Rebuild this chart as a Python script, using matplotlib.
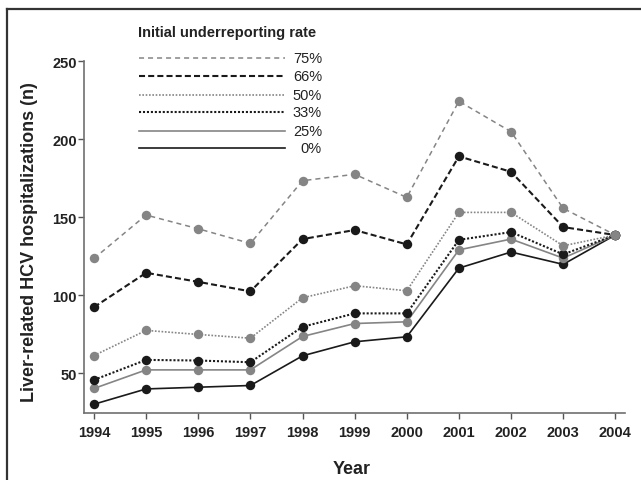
import matplotlib
matplotlib.use('Agg')
import matplotlib.pyplot as plt
from matplotlib.lines import Line2D

plt.rcParams['font.family'] = ['Liberation Sans', 'DejaVu Sans']

years = [1994, 1995, 1996, 1997, 1998, 1999, 2000, 2001, 2002, 2003, 2004]
rate_labels = ['75%', '66%', '50%', '33%', '25%', '0%']
rate_75 = [123.7, 151.5, 142.7, 133.3, 173.5, 177.6, 162.8, 224.4, 204.9, 155.8, 138.7]
rate_66 = [92.5, 114.5, 108.7, 102.6, 136.1, 141.9, 132.7, 189.1, 179.2, 143.8, 138.7]
rate_50 = [61.5, 77.6, 75.0, 72.6, 98.5, 106.2, 103.0, 153.2, 153.2, 131.8, 138.7]
rate_33 = [45.9, 58.7, 58.3, 57.2, 79.9, 88.5, 88.5, 135.6, 140.6, 126.3, 138.7]
rate_25 = [40.4, 52.3, 52.3, 52.3, 73.7, 82.0, 83.1, 129.2, 136.1, 123.9, 138.7]
rate_0 = [30.3, 40.1, 41.2, 42.3, 61.3, 70.3, 73.5, 117.5, 127.8, 119.9, 138.7]
y_ticks = [50, 100, 150, 200, 250]

GREY = '#858585'
BLACK = '#1a1a1a'
series = [
    (rate_75, GREY, (0, (3.3, 2.6)), 1.1, GREY),
    (rate_66, BLACK, (0, (2.9, 1.5)), 1.5, BLACK),
    (rate_50, GREY, (0, (1.0, 1.0)), 1.2, GREY),
    (rate_33, BLACK, (0, (1.0, 0.9)), 1.5, BLACK),
    (rate_25, GREY, '-', 1.2, GREY),
    (rate_0, BLACK, '-', 1.2, BLACK),
]

W, H = 641, 481
fig = plt.figure(figsize=(W / 100, H / 100), dpi=100)
ax = fig.add_axes([84.3 / W, 1 - 413.5 / H, (625 - 84.3) / W, (413.5 - 62.3) / H])

for vals, col, ls, lw, mc in series[::-1]:
    ax.plot(years, vals, color=col, linestyle=ls, linewidth=lw,
            marker='o', markersize=6.8, markerfacecolor=mc,
            markeredgewidth=0, clip_on=False, zorder=3)

ax.set_xlim(1993.814, 2004.186)
ax.set_ylim(25, 250)
ax.set_xticks(years)
ax.set_yticks(y_ticks)
ax.set_xticklabels([str(y) for y in years], fontsize=10.5, fontweight='bold', color='#222222')
ax.set_yticklabels([str(v) for v in y_ticks], fontsize=10.5, fontweight='bold', color='#222222')
for s in ['top', 'right']:
    ax.spines[s].set_visible(False)
for s in ['left', 'bottom']:
    ax.spines[s].set_color('#707070')
    ax.spines[s].set_linewidth(1.2)
ax.tick_params(axis='x', direction='out', length=4.5, width=1.0, color='#555555', pad=4.5)
ax.tick_params(axis='y', direction='out', length=4.5, width=1.0, color='#555555', pad=0.8)

fig.text(352 / W, 1 - 470 / H, 'Year', fontsize=13, fontweight='bold',
         ha='center', va='center', color='#222222')
fig.text(30 / W, 1 - 242 / H, 'Liver-related HCV hospitalizations (n)', fontsize=13,
         fontweight='bold', rotation=90, ha='center', va='center', color='#222222')

fig.text(137.7 / W, 1 - 33 / H, 'Initial underreporting rate', fontsize=10.5,
         fontweight='bold', ha='left', va='center', color='#222222')
rows_y = [59, 76.7, 95.7, 113.3, 131.7, 149.3]
for (vals, col, ls, lw, mc), lab, ry in zip(series, rate_labels, rows_y):
    fig.add_artist(Line2D([139 / W, 285 / W], [1 - ry / H, 1 - ry / H],
                          color=col, linestyle=ls, linewidth=lw, transform=fig.transFigure))
    fig.text(322 / W, 1 - ry / H, lab, fontsize=10.5, ha='right', va='center', color='#222222')

fig.add_artist(Line2D([7 / W, 7 / W], [0, 1 - 9.5 / H], color='#333333', linewidth=1.6,
                      transform=fig.transFigure))
fig.add_artist(Line2D([7 / W, 1], [1 - 9.5 / H, 1 - 9.5 / H], color='#333333', linewidth=1.6,
                      transform=fig.transFigure))

fig.savefig('out.png', dpi=100)
